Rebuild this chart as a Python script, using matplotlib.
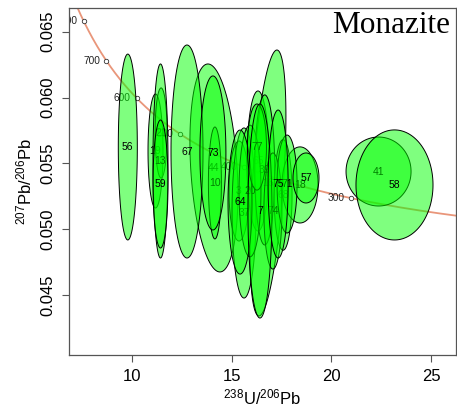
import numpy as np
import matplotlib
matplotlib.use("Agg")
import matplotlib.pyplot as plt
from matplotlib.patches import Polygon

plt.rcParams["font.family"] = ["Liberation Sans", "DejaVu Sans"]
plt.rcParams["mathtext.fontset"] = "custom"
plt.rcParams["mathtext.rm"] = "Liberation Sans"
plt.rcParams["mathtext.it"] = "Liberation Sans:italic"

# Monazite spot analyses (Tera-Wasserburg space), in plotting order
spot = ["44", "10", "19", "21", "13", "3", "37", "65", "16", "39", "20", "68", "74", "18", "41",
        "56", "67", "73", "59", "64", "77", "7", "71", "75", "57", "58"]
u238_pb206 = [14.11, 14.16, 11.18, 11.46, 11.43, 15.37, 15.62, 16.32, 16.82, 16.66, 15.92, 17.58,
              17.07, 18.43, 22.37,
              9.79, 12.76, 14.06, 11.43, 15.42, 16.27, 16.42, 17.78, 17.33, 18.73, 23.17]
u238_err = [1.204, 0.326, 0.376, 0.301, 0.376, 0.502, 0.602, 0.552, 0.903, 0.50, 0.55, 0.45,
            0.452, 0.903, 1.631,
            0.477, 0.803, 0.652, 0.376, 0.602, 0.477, 0.602, 0.502, 0.502, 0.652, 1.932]
pb207_pb206 = [0.05465, 0.05351, 0.05594, 0.05731, 0.05518, 0.0529, 0.05123, 0.05518, 0.05351,
               0.05450, 0.05290, 0.05260,
               0.05138, 0.05336, 0.05438, 0.05624, 0.0559, 0.05579, 0.05343, 0.05206, 0.05624,
               0.05138, 0.05343, 0.05343, 0.05389, 0.05336]
pb207_err = [0.0079, 0.00425, 0.00433, 0.00342, 0.00737, 0.0038, 0.00646, 0.00532, 0.0101,
             0.0057, 0.0050, 0.0042,
             0.00441, 0.00289, 0.00262, 0.00706, 0.00809, 0.00585, 0.00486, 0.00547, 0.00327,
             0.00813, 0.00372, 0.00562, 0.0019, 0.00418]
err_corr = [-0.25, 0, 0, 0, 0, 0, 0, 0, 0.5, 0, 0, 0, 0, 0, 0,
            0, 0, 0, 0, 0, 0, 0, 0, 0, 0, 0]

# Concordia age marks (Ma)
age_marks = [300, 400, 500, 600, 700, 800]

# Decay constants (1/Ma) and 238U/235U
L238 = 1.55125e-4
L235 = 9.8485e-4
U85 = 137.818


def tw_concordia(t):
    e8 = np.exp(L238 * t) - 1
    e5 = np.exp(L235 * t) - 1
    return 1 / e8, e5 / e8 / U85


fig = plt.figure(figsize=(4.57, 4.15), dpi=100)
ax = fig.add_axes([0.151, 0.1453, 0.847, 0.8354])
xlim = (6.84, 26.26)
ylim = (0.040465, 0.0668)
ax.set_xlim(*xlim)
ax.set_ylim(*ylim)

# concordia line
tt = np.linspace(200, 950, 600)
cx, cy = tw_concordia(tt)
ax.plot(cx, cy, color="#E9967A", lw=1.3, zorder=1)
for a in age_marks:
    px, py = tw_concordia(a)
    ax.plot(px, py, "o", ms=3.2, mfc="white", mec="#333333", mew=0.6, zorder=2)
    ax.annotate(str(a), (px, py), xytext=(-4.5, 0), textcoords="offset points",
                ha="right", va="center", fontsize=7.3, color="#222222", zorder=2,
                annotation_clip=False, clip_on=True)

# error ellipses
th = np.linspace(0, 2 * np.pi, 200)
for i, lab in enumerate(spot):
    r = err_corr[i]
    ex = u238_pb206[i] + u238_err[i] * np.cos(th)
    ey = pb207_pb206[i] + pb207_err[i] * (r * np.cos(th) + np.sqrt(1 - r * r) * np.sin(th))
    poly = Polygon(np.column_stack([ex, ey]), closed=True, facecolor=(0, 1, 0, 0.5),
                   edgecolor="black", lw=0.7, zorder=3 + i)
    ax.add_patch(poly)
    ax.text(u238_pb206[i], pb207_pb206[i], lab, ha="center", va="center",
            fontsize=7.5, color="black", zorder=3.5 + i)

ax.set_xticks([10, 15, 20, 25])
ax.set_yticks([0.045, 0.050, 0.055, 0.060, 0.065])
ax.set_yticklabels(["0.045", "0.050", "0.055", "0.060", "0.065"], rotation=90, va="center")
ax.tick_params(direction="out", length=5, width=0.8, color="#555555", labelsize=12, pad=5)
for s in ax.spines.values():
    s.set_color("#555555")
    s.set_linewidth(0.9)

ax.set_xlabel(r"$^{238}$U/$^{206}$Pb", fontsize=12, labelpad=3)
ax.set_ylabel(r"$^{207}$Pb/$^{206}$Pb", fontsize=12, labelpad=4)

ax.text(0.985, 0.99, "Monazite", transform=ax.transAxes, ha="right", va="top",
        fontsize=22.5, family="Liberation Serif", zorder=50)

fig.savefig("out.png", dpi=100)
